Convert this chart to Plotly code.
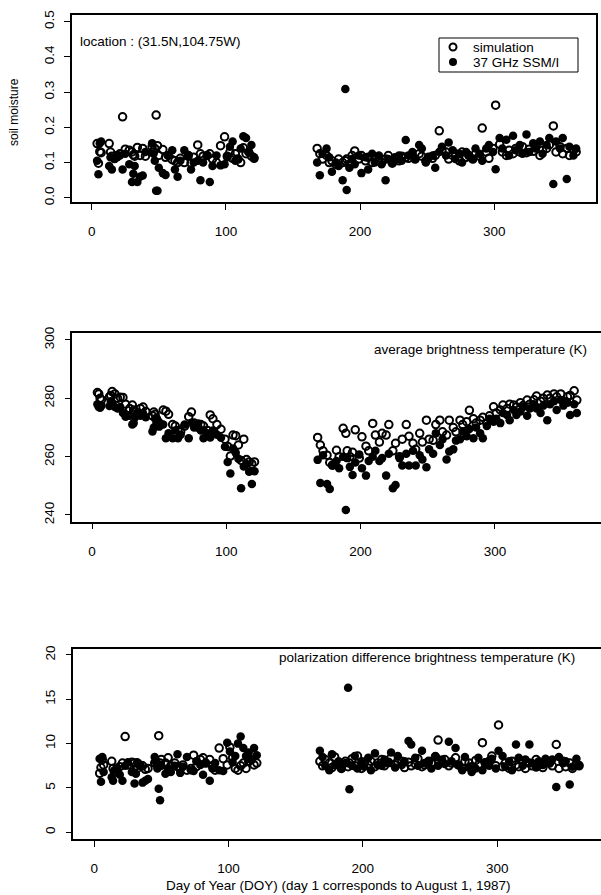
import plotly.graph_objects as go

# ---------------- data ----------------
doy_seg1 = [4, 5, 6, 7, 13, 14, 15, 17, 19, 21,
            23, 25, 28, 30, 31, 32, 34, 36, 38, 40,
            45, 46, 47, 48, 49, 50, 53, 55, 57, 60,
            62, 64, 66, 69, 72, 74, 76, 79, 81, 83,
            86, 88, 90, 93, 96, 99, 101, 103, 105, 107,
            109, 111, 113, 115, 117, 119, 121]
doy_seg2 = [168, 170, 172, 175, 177, 179, 182, 184, 187, 189,
            190, 192, 194, 196, 199, 201, 204, 206, 209, 211,
            214, 216, 219, 221, 224, 226, 229, 231, 234, 236,
            239, 241, 244, 246, 249, 251, 254, 256, 259, 261,
            264, 266, 269, 271, 274, 276, 279, 281, 284, 286,
            289, 291, 294, 296, 299, 301, 304, 306, 309, 311,
            314, 316, 319, 321, 324, 326, 329, 331, 334, 336,
            339, 341, 344, 346, 349, 351, 354, 356, 359, 361]

# soil moisture
sm_sim_seg1 = [0.154, 0.098, 0.131, 0.128, 0.154, 0.130, 0.118, 0.112, 0.120, 0.125,
               0.230, 0.138, 0.135, 0.130, 0.122, 0.118, 0.143, 0.120, 0.140, 0.118,
               0.145, 0.130, 0.140, 0.235, 0.148, 0.120, 0.137, 0.115, 0.120, 0.108,
               0.105, 0.100, 0.112, 0.100, 0.120, 0.098, 0.115, 0.150, 0.125, 0.118,
               0.120, 0.125, 0.110, 0.100, 0.148, 0.173, 0.118, 0.130, 0.112, 0.125,
               0.110, 0.100, 0.142, 0.125, 0.130, 0.118, 0.112]
sm_obs_seg1 = [0.105, 0.067, 0.155, 0.160, 0.090, 0.115, 0.080, 0.110, 0.115, 0.120,
               0.080, 0.125, 0.095, 0.045, 0.068, 0.090, 0.045, 0.060, 0.063, 0.130,
               0.155, 0.125, 0.105, 0.020, 0.020, 0.085, 0.070, 0.065, 0.120, 0.135,
               0.080, 0.060, 0.105, 0.135, 0.120, 0.080, 0.100, 0.105, 0.050, 0.100,
               0.120, 0.045, 0.090, 0.120, 0.092, 0.095, 0.115, 0.145, 0.160, 0.105,
               0.110, 0.140, 0.175, 0.170, 0.130, 0.150, 0.115]
sm_sim_seg2 = [0.140, 0.125, 0.110, 0.120, 0.100, 0.105, 0.095, 0.110, 0.100, 0.105,
               0.110, 0.095, 0.120, 0.133, 0.110, 0.120, 0.105, 0.115, 0.100, 0.110,
               0.112, 0.100, 0.110, 0.120, 0.098, 0.110, 0.105, 0.118, 0.115, 0.112,
               0.120, 0.110, 0.125, 0.118, 0.105, 0.115, 0.112, 0.120, 0.190, 0.135,
               0.130, 0.110, 0.120, 0.125, 0.105, 0.130, 0.115, 0.120, 0.110, 0.125,
               0.118, 0.198, 0.130, 0.112, 0.140, 0.263, 0.152, 0.130, 0.120, 0.135,
               0.125, 0.140, 0.130, 0.145, 0.128, 0.138, 0.132, 0.150, 0.120, 0.135,
               0.140, 0.150, 0.204, 0.130, 0.145, 0.125, 0.140, 0.120, 0.135, 0.130]
sm_obs_seg2 = [0.100, 0.064, 0.125, 0.140, 0.115, 0.074, 0.100, 0.090, 0.050, 0.309,
               0.022, 0.085, 0.110, 0.095, 0.120, 0.070, 0.115, 0.080, 0.125, 0.100,
               0.120, 0.095, 0.050, 0.110, 0.100, 0.115, 0.120, 0.105, 0.164, 0.120,
               0.130, 0.110, 0.150, 0.140, 0.100, 0.115, 0.120, 0.085, 0.130, 0.145,
               0.120, 0.157, 0.135, 0.110, 0.125, 0.100, 0.130, 0.120, 0.110, 0.140,
               0.125, 0.105, 0.140, 0.150, 0.130, 0.081, 0.170, 0.140, 0.165, 0.120,
               0.176, 0.135, 0.150, 0.125, 0.180, 0.130, 0.155, 0.140, 0.160, 0.125,
               0.150, 0.170, 0.039, 0.160, 0.140, 0.170, 0.053, 0.145, 0.120, 0.140]

# average brightness temperature (K)
tb_sim_seg1 = [282.0, 281.5, 280.0, 279.5, 280.5, 281.0, 282.3, 281.5, 280.0, 280.4,
               280.3, 278.0, 276.5, 277.7, 276.0, 275.5, 275.0, 276.5, 277.0, 275.5,
               274.0, 275.3, 274.5, 273.0, 272.0, 271.5, 276.0, 275.6, 274.5, 271.0,
               270.5, 269.0, 268.5, 270.5, 273.7, 275.3, 271.5, 270.0, 271.0, 270.5,
               269.0, 274.3, 273.0, 271.0, 269.4, 266.0, 263.5, 260.2, 267.4, 267.2,
               264.0, 258.7, 266.0, 259.0, 258.2, 257.5, 258.2]
tb_obs_seg1 = [278.0, 277.0, 276.8, 277.5, 277.4, 279.0, 278.5, 277.0, 276.5, 277.0,
               275.0, 273.7, 274.0, 271.0, 271.5, 273.5, 275.0, 274.0, 274.8, 273.5,
               268.6, 270.0, 273.0, 271.5, 272.0, 270.3, 271.0, 266.3, 268.0, 266.3,
               269.0, 266.3, 267.5, 271.0, 266.3, 271.6, 270.0, 271.4, 269.0, 266.3,
               268.0, 266.6, 269.0, 267.5, 266.5, 263.4, 258.2, 254.2, 262.8, 261.3,
               259.3, 249.2, 256.6, 257.5, 254.8, 250.6, 255.0]
tb_sim_seg2 = [266.6, 264.0, 262.0, 260.5, 258.0, 257.1, 262.2, 260.0, 269.7, 268.0,
               262.0, 260.0, 261.5, 269.2, 259.5, 266.8, 263.6, 262.0, 271.4, 267.4,
               265.0, 268.0, 267.4, 271.0, 262.0, 264.6, 260.0, 266.0, 271.0, 267.0,
               264.6, 262.5, 268.0, 265.0, 272.5, 266.0, 265.6, 271.0, 272.5, 268.5,
               267.4, 272.5, 270.0, 268.5, 272.5, 271.0, 272.0, 275.9, 273.0, 271.5,
               272.5, 273.5, 271.5, 274.0, 277.1, 275.0, 276.0, 277.7, 276.5, 278.0,
               277.7, 277.0, 278.5, 277.5, 279.4, 278.0, 279.5, 280.8, 279.0, 280.0,
               281.1, 280.0, 281.5, 280.5, 281.5, 279.0, 280.5, 281.0, 282.6, 279.4]
tb_obs_seg2 = [258.9, 251.0, 260.5, 250.6, 248.9, 257.0, 258.5, 256.0, 260.0, 241.7,
               259.5, 256.5, 253.7, 258.0, 260.7, 256.0, 253.5, 258.5, 260.0, 262.0,
               258.5, 259.5, 253.5, 261.0, 249.2, 250.3, 259.5, 257.0, 261.0, 257.0,
               262.0, 257.0, 260.5, 259.0, 256.4, 262.5, 261.0, 268.0, 264.0, 266.0,
               259.0, 261.8, 262.5, 265.5, 266.0, 268.6, 267.0, 269.5, 266.3, 270.0,
               268.0, 266.3, 270.5, 273.0, 272.0, 273.0, 271.5, 275.0, 274.3, 272.5,
               276.0, 274.3, 275.5, 277.0, 274.0, 276.5, 278.0, 276.5, 275.0, 277.5,
               272.5, 278.0, 279.0, 276.0, 279.4, 277.5, 278.5, 274.3, 278.0, 275.0]

# polarization difference brightness temperature (K)
pd_sim_seg1 = [6.65, 7.3, 8.2, 7.6, 8.0, 7.2, 6.8, 7.0, 7.4, 7.8,
               10.8, 7.6, 7.9, 7.8, 7.5, 7.2, 7.6, 7.5, 7.1, 7.2,
               7.8, 8.0, 7.6, 10.9, 7.8, 8.2, 7.8, 8.4, 7.5, 7.8,
               7.4, 7.2, 7.6, 7.0, 7.2, 8.7, 7.4, 8.2, 8.4, 7.8,
               8.2, 7.5, 7.0, 9.5, 8.3, 7.6, 9.6, 8.4, 7.2, 7.0,
               7.5, 7.8, 7.2, 8.0, 8.2, 7.6, 7.8]
pd_obs_seg1 = [8.3, 5.7, 8.5, 6.8, 6.2, 5.8, 7.0, 7.2, 6.5, 5.8,
               7.5, 7.9, 6.8, 5.5, 6.6, 7.9, 7.5, 5.6, 5.8, 6.0,
               8.5, 8.0, 7.2, 4.9, 3.6, 7.5, 6.6, 7.2, 6.8, 7.5,
               8.8, 6.7, 7.4, 8.5, 7.0, 6.9, 8.0, 7.6, 6.5, 7.8,
               5.8, 7.2, 7.8, 7.0, 6.9, 10.1, 9.1, 7.9, 8.6, 10.0,
               10.8, 9.5, 8.6, 9.0, 8.2, 9.5, 8.7]
pd_sim_seg2 = [8.0, 7.5, 8.2, 7.8, 7.3, 8.5, 7.6, 7.2, 8.0, 7.4,
               7.8, 8.3, 7.5, 8.6, 7.2, 7.9, 7.6, 8.0, 7.4, 7.8,
               8.2, 7.5, 7.9, 8.4, 7.6, 7.8, 8.0, 7.3, 7.9, 7.5,
               7.7, 8.3, 7.4, 7.6, 8.0, 7.8, 8.5, 10.4, 7.9, 8.2,
               7.5, 7.8, 8.4, 7.6, 7.2, 8.0, 7.8, 7.4, 8.1, 7.6,
               10.1, 7.8, 8.0, 8.6, 7.5, 12.1, 7.4, 7.8, 7.2, 8.0,
               7.6, 7.4, 8.0, 7.2, 7.8, 7.5, 8.2, 7.6, 7.3, 7.9,
               7.8, 7.5, 9.9, 7.2, 8.0, 7.4, 7.8, 7.2, 7.6, 7.5]
pd_obs_seg2 = [9.2, 8.5, 7.5, 7.0, 8.8, 7.6, 8.0, 7.2, 7.8, 16.3,
               4.85, 7.5, 8.6, 7.2, 8.0, 7.4, 8.4, 7.0, 8.9, 7.6,
               7.5, 8.2, 7.8, 9.0, 7.3, 8.6, 7.6, 8.0, 10.3, 9.9,
               8.4, 7.5, 9.2, 7.8, 8.0, 7.2, 8.6, 7.5, 8.2, 7.7,
               10.2, 8.0, 9.5, 7.6, 7.0, 8.5, 7.3, 6.8, 7.2, 8.4,
               7.0, 7.9, 7.5, 8.3, 7.2, 9.2, 8.6, 7.4, 8.0, 7.0,
               9.9, 8.4, 7.5, 8.2, 9.9, 7.8, 7.3, 8.0, 7.6, 8.3,
               7.9, 8.2, 5.1, 8.5, 7.8, 8.0, 5.4, 7.4, 8.3, 7.6]

x_ticks = [0, 100, 200, 300]
sm_ticks = [0.0, 0.1, 0.2, 0.3, 0.4, 0.5]
tb_ticks = [240, 260, 280, 300]
pd_ticks = [0, 5, 10, 15, 20]

legend_sim = "simulation"
legend_obs = "37 GHz SSM/I"

# ---------------- figure ----------------
W, H = 601, 895
FONT = "Liberation Sans, Arial, Helvetica, sans-serif"

doy = doy_seg1 + doy_seg2
panels = [
    ("", sm_sim_seg1 + sm_sim_seg2, sm_obs_seg1 + sm_obs_seg2),
    ("2", tb_sim_seg1 + tb_sim_seg2, tb_obs_seg1 + tb_obs_seg2),
    ("3", pd_sim_seg1 + pd_sim_seg2, pd_obs_seg1 + pd_obs_seg2),
]

OBS_MARKER = dict(symbol="circle", size=8.5, color="black", line=dict(width=0))
SIM_MARKER = dict(symbol="circle-open", size=7.5, color="black",
                  line=dict(width=2, color="black"))

fig = go.Figure()
for i, (ax, sim, obs) in enumerate(panels):
    fig.add_trace(go.Scatter(
        x=doy, y=obs, mode="markers", name=legend_obs,
        xaxis="x" + ax, yaxis="y" + ax, showlegend=False, marker=OBS_MARKER,
    ))
    fig.add_trace(go.Scatter(
        x=doy, y=sim, mode="markers", name=legend_sim,
        xaxis="x" + ax, yaxis="y" + ax, showlegend=False, marker=SIM_MARKER,
    ))


def px(v):
    return v / W


def py(v):
    return 1 - v / H


axis_common = dict(
    showline=True, linecolor="black", linewidth=1.5, mirror=True,
    ticks="outside", ticklen=6, tickwidth=1, tickcolor="black",
    showgrid=False, zeroline=False, automargin=False,
    tickfont=dict(family=FONT, size=13.5, color="black"),
)

xdoms = [[px(72), px(596)], [px(72.3), 1.0], [px(73.3), 1.0]]
xranges = [[-14.7, 375.8], [-14.7, 379.0], [-15.6, 377.3]]
ydoms = [[py(202), py(15)], [py(521.7), py(332.7)], [py(839), py(649.3)]]
yranges = [[-0.012, 0.519], [237.7, 302.5], [-0.76, 20.64]]
yticks = [sm_ticks, tb_ticks, pd_ticks]
yfmts = [".1f", "d", "d"]

layout = dict(
    template="none",
    width=W, height=H,
    margin=dict(l=0, r=0, t=0, b=0, pad=0, autoexpand=False),
    paper_bgcolor="white", plot_bgcolor="white",
    font=dict(family=FONT, size=13.5, color="black"),
    showlegend=False,
)
for i in range(3):
    sx = "" if i == 0 else str(i + 1)
    layout["xaxis" + sx] = dict(
        axis_common, domain=xdoms[i], range=xranges[i],
        tickvals=x_ticks, anchor="y" + sx, ticklabelstandoff=10,
    )
    layout["yaxis" + sx] = dict(
        axis_common, domain=ydoms[i], range=yranges[i],
        tickvals=yticks[i], tickformat=yfmts[i], anchor="x" + sx,
        tickangle=-90, ticklabelstandoff=5,
    )
fig.update_layout(**layout)

# ---- legend box (top panel) ----
fig.add_shape(type="rect", xref="paper", yref="paper",
              x0=px(439), x1=px(578), y0=py(72), y1=py(38),
              line=dict(color="black", width=1), fillcolor="white", layer="above")
fig.add_shape(type="circle", xref="paper", yref="paper",
              xsizemode="pixel", ysizemode="pixel",
              xanchor=px(453), yanchor=py(47), x0=-3.5, x1=3.5, y0=-3.5, y1=3.5,
              line=dict(color="black", width=2), fillcolor="rgba(0,0,0,0)",
              layer="above")
fig.add_shape(type="circle", xref="paper", yref="paper",
              xsizemode="pixel", ysizemode="pixel",
              xanchor=px(453), yanchor=py(62), x0=-4, x1=4, y0=-4, y1=4,
              line=dict(color="black", width=0), fillcolor="black",
              layer="above")

ann_font = dict(family=FONT, size=13.5, color="black")
fig.add_annotation(text=legend_sim, xref="paper", yref="paper",
                   x=px(471), y=py(47), xanchor="left", yanchor="middle",
                   showarrow=False, font=ann_font)
fig.add_annotation(text=legend_obs, xref="paper", yref="paper",
                   x=px(471), y=py(62), xanchor="left", yanchor="middle",
                   showarrow=False, font=ann_font)
fig.add_annotation(text="location : (31.5N,104.75W)", xref="paper", yref="paper",
                   x=px(78), y=py(42), xanchor="left", yanchor="middle",
                   showarrow=False, font=ann_font)
fig.add_annotation(text="average brightness temperature (K)", xref="paper", yref="paper",
                   x=px(589), y=py(350), xanchor="right", yanchor="middle",
                   showarrow=False, font=ann_font)
fig.add_annotation(text="polarization difference brightness temperature (K)",
                   xref="paper", yref="paper",
                   x=px(577), y=py(657), xanchor="right", yanchor="middle",
                   showarrow=False, font=ann_font)
fig.add_annotation(text="soil moisture", xref="paper", yref="paper",
                   x=px(14), y=py(112), xanchor="center", yanchor="middle",
                   textangle=-90, showarrow=False,
                   font=dict(family=FONT, size=12, color="black"))
fig.add_annotation(text="Day of Year (DOY) (day 1 corresponds to August 1, 1987)",
                   xref="paper", yref="paper",
                   x=px(338), y=py(885), xanchor="center", yanchor="middle",
                   showarrow=False, font=ann_font)

fig.write_html(
    "out.html",
    config={"displayModeBar": False},
    post_script="document.body.style.margin='0px';document.body.style.padding='0px';"
                "document.body.style.overflow='hidden';",
)
